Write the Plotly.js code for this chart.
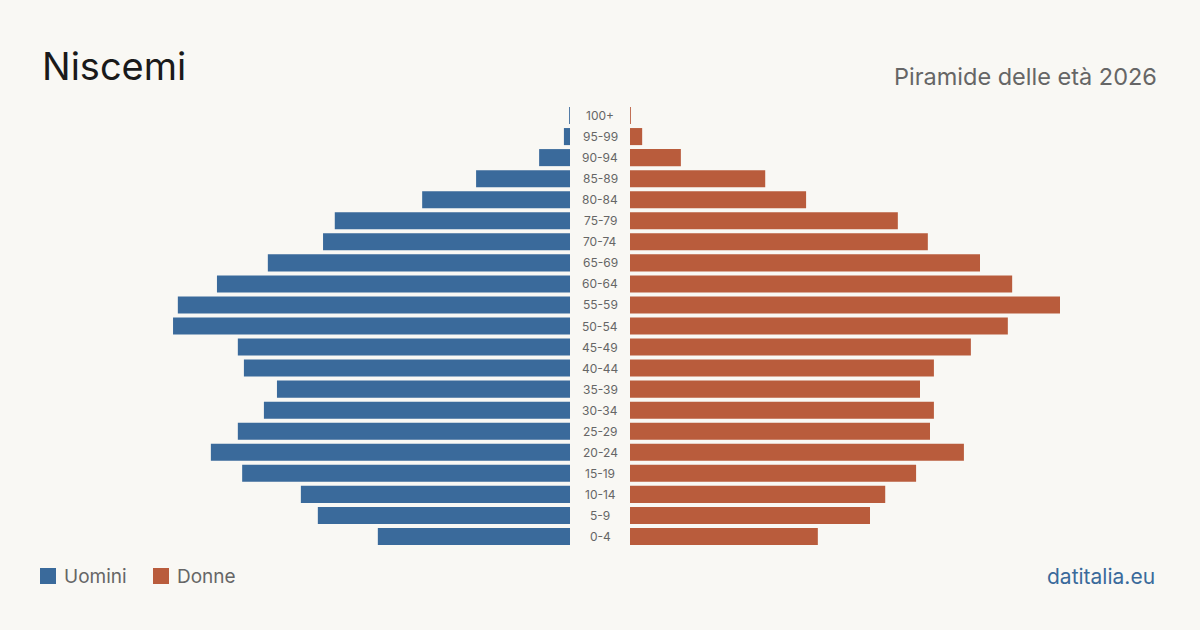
<!DOCTYPE html>
<html>
<head>
<meta charset="utf-8">
<script src="https://cdn.plot.ly/plotly-3.0.1.min.js"></script>
<style>
html,body{margin:0;padding:0;background:#f9f8f4;}
#chart{width:1200px;height:630px;}
</style>
</head>
<body>
<div id="chart"></div>
<script>
const ageGroups = ["0-4","5-9","10-14","15-19","20-24","25-29","30-34","35-39","40-44","45-49","50-54","55-59","60-64","65-69","70-74","75-79","80-84","85-89","90-94","95-99","100+"];
const uomini = [442,580,619,754,826,764,704,674,750,764,913,902,812,695,568,541,340,216,71,14,2];
const donne  = [432,552,587,658,768,690,699,667,699,784,869,989,879,805,685,616,405,311,117,28,2];

const BLUE = "#3a6a9b";
const ORANGE = "#b95c3c";
const FONT = "Inter, 'Liberation Sans', sans-serif";
const MAXR = 1311;

const W = 1200, H = 630, MT = 105, MB = 83;
const px = x => x / W;
const py = y => (H - MB - y) / (H - MT - MB);

const traces = [
  {type:"bar", orientation:"h", name:"Uomini", y:ageGroups, x:uomini, xaxis:"x", yaxis:"y",
   marker:{color:BLUE}, hoverinfo:"skip", showlegend:false},
  {type:"bar", orientation:"h", name:"Donne", y:ageGroups, x:donne, xaxis:"x2", yaxis:"y",
   marker:{color:ORANGE}, hoverinfo:"skip", showlegend:false}
];

const annotations = ageGroups.map(g => ({
  xref:"paper", yref:"y", x:0.5, y:g, text:g, showarrow:false,
  xanchor:"center", yanchor:"middle",
  font:{family:FONT, size:12, color:"#666"}
}));

annotations.push(
  {xref:"paper", yref:"paper", x:px(40), y:py(66), text:"Niscemi", showarrow:false,
   xanchor:"left", yanchor:"middle", font:{family:FONT, size:38, color:"#1a1a1a"}},
  {xref:"paper", yref:"paper", x:px(1159), y:py(76), text:"Piramide delle età 2026", showarrow:false,
   xanchor:"right", yanchor:"middle", font:{family:FONT, size:23.5, color:"#666"}},
  {xref:"paper", yref:"paper", x:px(62), y:py(576), text:"Uomini", showarrow:false,
   xanchor:"left", yanchor:"middle", font:{family:FONT, size:19, color:"#666"}},
  {xref:"paper", yref:"paper", x:px(175), y:py(576), text:"Donne", showarrow:false,
   xanchor:"left", yanchor:"middle", font:{family:FONT, size:19, color:"#666"}},
  {xref:"paper", yref:"paper", x:px(1157), y:py(576), text:"datitalia.eu", showarrow:false,
   xanchor:"right", yanchor:"middle", font:{family:FONT, size:21, color:BLUE}}
);

const shapes = [
  {type:"rect", xref:"paper", yref:"paper", x0:px(40), x1:px(56), y0:py(584), y1:py(568),
   fillcolor:BLUE, line:{width:0}},
  {type:"rect", xref:"paper", yref:"paper", x0:px(153), x1:px(169), y0:py(584), y1:py(568),
   fillcolor:ORANGE, line:{width:0}}
];

const layout = {
  width:W, height:H,
  paper_bgcolor:"#f9f8f4", plot_bgcolor:"#f9f8f4",
  margin:{l:0, r:0, t:MT, b:MB, pad:0},
  bargap:0.19,
  showlegend:false,
  xaxis:{domain:[0, 570/1200], range:[MAXR, 0], showgrid:false, zeroline:false,
         showticklabels:false, showline:false, ticks:"", fixedrange:true},
  xaxis2:{domain:[630/1200, 1], range:[0, MAXR], showgrid:false, zeroline:false,
          showticklabels:false, showline:false, ticks:"", fixedrange:true},
  yaxis:{type:"category", categoryorder:"array", categoryarray:ageGroups,
         range:[-0.5, ageGroups.length-0.5], showgrid:false, zeroline:false,
         showticklabels:false, showline:false, ticks:"", fixedrange:true},
  annotations:annotations,
  shapes:shapes,
  font:{family:FONT}
};

Plotly.newPlot("chart", traces, layout, {displayModeBar:false, staticPlot:true});
</script>
</body>
</html>
